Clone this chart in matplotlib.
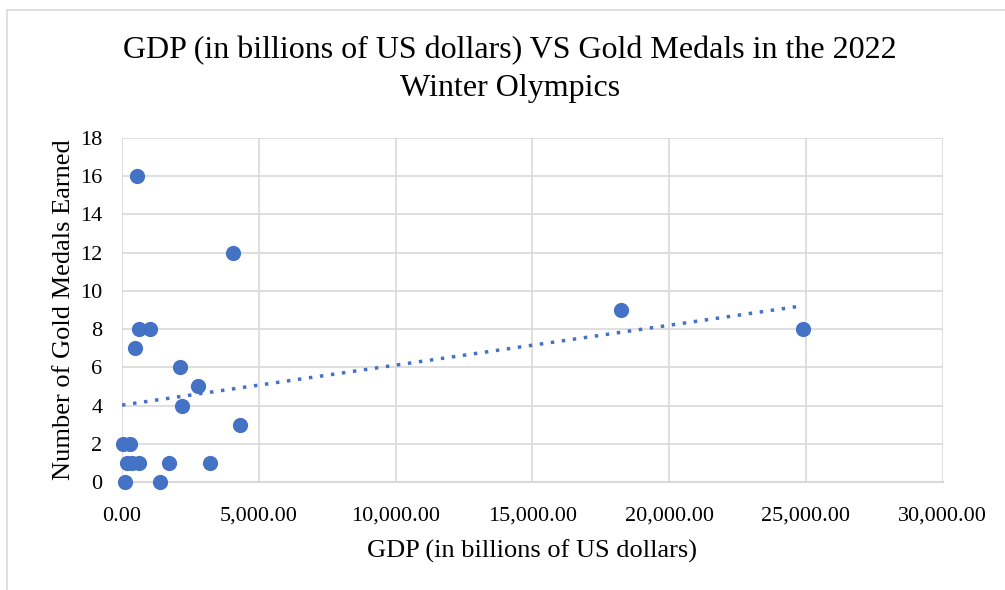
import matplotlib
matplotlib.use("Agg")
import matplotlib.pyplot as plt
import numpy as np
from matplotlib.ticker import FuncFormatter, MultipleLocator
from matplotlib.patches import Rectangle

gdp = [540, 4040, 633, 1022, 487, 2128, 2774, 2201, 4318, 40, 290,
       170, 354, 633, 1729, 3212, 98, 1398, 18250, 24900]
gold = [16, 12, 8, 8, 7, 6, 5, 4, 3, 2, 2,
        1, 1, 1, 1, 1, 0, 0, 9, 8]

title = "GDP (in billions of US dollars) VS Gold Medals in the 2022\nWinter Olympics"
xlabel = "GDP (in billions of US dollars)"
ylabel = "Number of Gold Medals Earned"

plt.rcParams['font.family'] = ['Liberation Serif', 'DejaVu Serif']
fig = plt.figure(figsize=(10.05, 5.9), dpi=100)
fig.patches.append(Rectangle((0.007, -0.1), 1.2, 1.083, transform=fig.transFigure,
                             fill=False, edgecolor='#D9D9D9', linewidth=1.2))
ax = fig.add_axes([0.1214, 0.183, 0.8166, 0.583])

color = '#4472C4'
ax.scatter(gdp, gold, s=120, color=color, zorder=3, linewidths=0, clip_on=False)

x = np.array(gdp, dtype=float)
y = np.array(gold, dtype=float)
m, b = np.polyfit(x, y, 1)
xs = np.linspace(0, x.max(), 100)
ax.plot(xs, m * xs + b, linestyle=(0, (1, 2.2)), color=color, linewidth=2.5, zorder=2)

ax.set_xlim(0, 30000)
ax.set_ylim(0, 18)
ax.xaxis.set_major_locator(MultipleLocator(5000))
ax.yaxis.set_major_locator(MultipleLocator(2))
ax.xaxis.set_major_formatter(FuncFormatter(lambda v, p: f"{v:,.2f}"))
ax.grid(True, color='#D9D9D9', linewidth=1.2, zorder=0)
ax.set_axisbelow(True)
for s in ['top', 'right', 'left']:
    ax.spines[s].set_visible(False)
ax.spines['bottom'].set_color('#D9D9D9')
ax.spines['bottom'].set_linewidth(1.5)
ax.tick_params(length=0, labelsize=16)
ax.tick_params(axis='x', pad=18)
ax.tick_params(axis='y', pad=14)

fig.text(0.5075, 0.883, title, fontsize=23, ha='center', va='center',
         linespacing=1.4)
ax.set_xlabel(xlabel, fontsize=19, labelpad=10)
ax.set_ylabel(ylabel, fontsize=19, labelpad=4)

fig.savefig("out.png", dpi=100)
